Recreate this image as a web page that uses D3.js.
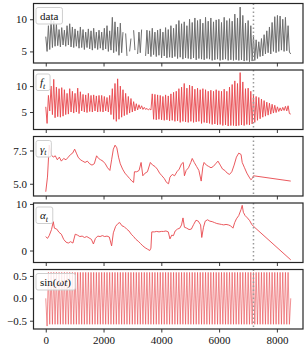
<!DOCTYPE html>
<html>
<head>
<meta charset="utf-8">
<script src="https://cdn.jsdelivr.net/npm/d3@7"></script>
<style>
  body { margin: 0; background: #fff; }
</style>
</head>
<body>
<div id="chart"></div>
<script>
// five stacked panels, shared time axis

const tEnd = 8480        // last time index
const tSplit = 7190      // dotted vertical line

// oscillating series: peaks (hi, 93 values) and troughs (lo, 92 values), drawn hi0, lo0, hi1, lo1 ...
const dataHi = [7.3, 9.0, 10.0, 9.7, 9.2, 8.4, 8.7, 8.3, 9.0, 9.3,
  8.8, 8.5, 8.2, 8.8, 8.4, 8.0, 8.5, 8.2, 8.6, 8.0,
  8.3, 8.0, 8.6, 9.0, 8.2, 10.3, 9.6, 8.8, 9.4, 8.0,
  7.8, null, 7.0, 8.3, null, 8.0, 8.4, null, 8.3, 8.2,
  8.6, 8.0, 8.3, 8.5, 8.0, 8.7, 8.4, 9.0, 8.6, 9.2,
  9.8, 9.3, 9.6, 9.0, 10.0, 9.5, 10.2, 9.8, 10.0, 9.4,
  10.3, 9.7, 10.2, 9.6, 9.9, 10.0, 9.5, 10.3, 9.8, 10.1,
  9.7, 10.8, 10.2, 11.9, 10.6, 9.4, 9.8, 9.0, 7.5, 6.8,
  6.5, 7.0, 7.6, 8.2, 8.8, 9.5, 10.4, 10.6, 10.5, 10.0,
  10.3, 9.0, 4.6]
const dataLo = [5.0, 5.3, 5.6, 5.8, 5.9, 5.7, 6.0, 5.8, 6.0, 5.7,
  5.6, 5.8, 5.5, 5.6, 5.3, 5.6, 5.4, 5.2, 5.5, 5.3,
  5.5, 5.2, 5.4, 5.0, 5.2, 4.8, 5.0, 4.4, 4.8, null,
  4.3, 5.0, null, 5.2, 4.6, 4.8, null, 4.3, 4.6, 4.2,
  4.5, 4.2, 4.4, 4.0, 4.3, 4.0, 4.1, 4.0, 4.2, 3.9,
  4.1, 3.8, 4.0, 3.9, 3.8, 4.0, 3.7, 3.9, 3.8, 3.7,
  3.9, 3.8, 3.6, 3.7, 3.8, 3.6, 3.7, 3.8, 3.6, 3.7,
  3.6, 3.7, 3.6, 3.7, 3.5, 3.6, 3.4, 3.5, 3.6, 3.9,
  4.2, 4.3, 4.6, 4.8, 4.6, 5.0, 4.8, 5.0, 5.2, 5.0,
  5.1, 4.9]

const ftHi = [6.0, 8.2, 10.0, 11.3, 9.8, 9.5, 9.7, 9.3, 8.6, 9.5,
  9.0, 8.6, 9.6, 8.9, 8.4, 8.3, 8.6, 8.2, 8.3, 8.1,
  8.2, 8.2, 8.0, 7.8, 8.2, 9.5, 10.5, 11.4, 10.0, 9.3,
  8.6, 8.0, 7.6, 7.0, 6.6, 6.4, 6.2, 5.9, 5.7, 5.6,
  8.5, 8.4, 8.3, 8.2, 8.0, 8.3, 8.1, 8.5, 8.8, 9.0,
  9.5, 9.8, 10.5, 9.6, 10.2, 10.0, 9.4, 9.6, 9.3, 9.5,
  9.3, 9.0, 9.2, 9.0, 9.3, 9.1, 9.0, 9.4, 9.0, 9.8,
  10.3, 11.0, 10.5, 12.6, 10.8, 9.5, 9.6, 9.0, 8.3, 8.0,
  7.8, 7.5, 7.2, 6.9, 6.7, 6.5, 6.3, 6.0, 5.8, 5.9,
  6.1, 6.2, 4.6]
const ftLo = [2.8, 5.2, 4.5, 3.9, 4.1, 4.0, 4.2, 4.5, 4.6, 5.0,
  4.8, 5.0, 4.7, 5.2, 5.0, 4.9, 5.1, 5.0, 5.2, 5.0,
  5.1, 5.0, 5.2, 5.0, 4.5, 3.6, 3.2, 3.6, 4.0, 4.3,
  4.5, 4.8, 5.0, 5.2, 5.4, 5.6, 5.5, 5.5, 5.4, 5.4,
  3.6, 3.5, 3.6, 3.5, 3.4, 3.5, 3.3, 3.4, 3.2, 3.3,
  3.0, 3.2, 3.1, 3.0, 3.2, 3.0, 3.1, 3.2, 2.8, 3.0,
  2.9, 2.8, 2.6, 2.7, 2.5, 2.6, 2.4, 2.5, 2.3, 2.4,
  2.4, 2.3, 2.4, 2.5, 2.4, 2.6, 2.5, 2.7, 3.0, 3.4,
  3.7, 4.0, 4.2, 4.4, 4.6, 4.8, 4.9, 5.1, 5.2, 5.3,
  5.2, 4.7]

const sinHi = [0, 0.58, 0.58, 0.58, 0.58, 0.58, 0.58, 0.58, 0.58, 0.58,
  0.58, 0.58, 0.58, 0.58, 0.58, 0.58, 0.58, 0.58, 0.58, 0.58,
  0.58, 0.58, 0.58, 0.58, 0.58, 0.58, 0.58, 0.58, 0.58, 0.58,
  0.58, 0.58, 0.58, 0.58, 0.58, 0.58, 0.58, 0.58, 0.58, 0.58,
  0.58, 0.58, 0.58, 0.58, 0.58, 0.58, 0.58, 0.58, 0.58, 0.58,
  0.58, 0.58, 0.58, 0.58, 0.58, 0.58, 0.58, 0.58, 0.58, 0.58,
  0.58, 0.58, 0.58, 0.58, 0.58, 0.58, 0.58, 0.58, 0.58, 0.58,
  0.58, 0.58, 0.58, 0.58, 0.58, 0.58, 0.58, 0.58, 0.58, 0.58,
  0.58, 0.58, 0.58, 0.58, 0.58, 0.58, 0.58, 0.58, 0.58, 0.58,
  0.58, 0.58, 0]
const sinLo = [-0.62, -0.58, -0.58, -0.58, -0.58, -0.58, -0.58, -0.58, -0.58, -0.58,
  -0.58, -0.58, -0.58, -0.58, -0.58, -0.58, -0.58, -0.58, -0.58, -0.58,
  -0.58, -0.58, -0.58, -0.58, -0.58, -0.58, -0.58, -0.58, -0.58, -0.58,
  -0.58, -0.58, -0.58, -0.58, -0.58, -0.58, -0.58, -0.58, -0.58, -0.58,
  -0.58, -0.58, -0.58, -0.58, -0.58, -0.58, -0.58, -0.58, -0.58, -0.58,
  -0.58, -0.58, -0.58, -0.58, -0.58, -0.58, -0.58, -0.58, -0.58, -0.58,
  -0.58, -0.58, -0.58, -0.58, -0.58, -0.58, -0.58, -0.58, -0.58, -0.58,
  -0.58, -0.58, -0.58, -0.58, -0.58, -0.58, -0.58, -0.58, -0.58, -0.58,
  -0.58, -0.58, -0.58, -0.58, -0.58, -0.58, -0.58, -0.58, -0.58, -0.58,
  -0.58, -0.58]

// slow series: time / value pairs
const gammaT = [0, 60, 120, 180, 260, 330, 400, 470, 540, 620, 700, 780, 860, 930, 1000, 1060, 1120, 1200, 1280, 1360,
  1440, 1520, 1600, 1680, 1760, 1830, 1900, 1980, 2060, 2140, 2220, 2280, 2340, 2400, 2460, 2520, 2580, 2660, 2740, 2820,
  2900, 2980, 3040, 3070, 3150, 3230, 3300, 3360, 3440, 3520, 3620, 3700, 3780, 3860, 3940, 4020, 4100, 4180, 4250, 4300,
  4380, 4460, 4540, 4620, 4700, 4760, 4800, 4860, 4940, 5020, 5070, 5140, 5220, 5300, 5380, 5440, 5480, 5560, 5640, 5720,
  5800, 5880, 5960, 6040, 6120, 6200, 6280, 6360, 6440, 6520, 6600, 6680, 6760, 6800, 6880, 6960, 7040, 7100, 7150, 7190, 8480]
const gammaV = [4.4, 5.5, 7.9, 7.2, 7.0, 7.1, 6.8, 7.0, 6.7, 6.9, 6.8, 7.0, 7.2, 7.3, 7.6, 7.3, 7.0, 6.8, 6.7, 6.6,
  6.7, 6.5, 6.4, 6.5, 7.1, 6.9, 6.8, 6.7, 6.5, 6.2, 6.0, 6.8, 7.6, 7.9, 7.7, 7.0, 6.5, 6.1, 5.8, 5.6,
  5.4, 5.2, 5.1, 5.9, 5.9, 6.0, 6.6, 5.6, 5.8, 5.9, 6.6, 6.4, 6.3, 6.1, 5.8, 5.6, 5.4, 5.1, 5.0, 5.5,
  5.7, 5.6, 5.9, 6.1, 6.5, 6.6, 5.6, 6.0, 6.2, 6.6, 6.9, 6.6, 6.3, 6.0, 5.2, 6.3, 6.6, 6.4, 6.3, 6.2,
  6.3, 6.5, 6.7, 6.4, 6.1, 6.0, 5.8, 5.7, 5.9, 6.4, 7.0, 7.3, 7.2, 6.6, 6.2, 5.8, 5.5, 5.3, 5.4, 5.6, 5.2]

const alphaT = [0, 60, 120, 200, 260, 300, 380, 460, 540, 620, 700, 780, 860, 940, 1020, 1100, 1180, 1260, 1340, 1420,
  1500, 1580, 1650, 1720, 1800, 1880, 1960, 2040, 2120, 2200, 2280, 2340, 2420, 2500, 2560, 2640, 2720, 2800, 2880, 2960,
  3040, 3120, 3200, 3280, 3360, 3440, 3520, 3600, 3640, 3670, 3760, 3840, 3920, 4000, 4080, 4160, 4240, 4300, 4360, 4420,
  4480, 4560, 4640, 4700, 4750, 4800, 4880, 4960, 5040, 5120, 5200, 5280, 5360, 5400, 5460, 5520, 5600, 5680, 5760, 5840,
  5920, 6000, 6080, 6160, 6240, 6320, 6400, 6480, 6540, 6600, 6680, 6760, 6800, 6840, 6900, 6980, 7060, 7130, 7190, 8480]
const alphaV = [3.0, 2.6, 3.2, 4.5, 6.2, 4.8, 4.6, 3.9, 3.5, 2.4, 1.8, 1.6, 1.9, 1.6, 3.5, 3.3, 3.0, 3.1, 2.8, 3.0,
  2.7, 2.4, 1.4, 2.6, 3.1, 3.0, 3.2, 3.0, 3.1, 2.9, 1.0, 3.8, 5.2, 5.8, 6.0, 5.3, 5.1, 4.6, 4.2, 3.5,
  3.0, 2.4, 2.0, 1.5, 1.0, 0.6, 0.3, 0.0, 0.5, 4.0, 4.0, 4.1, 4.0, 4.1, 4.1, 4.2, 4.0, 2.5, 3.3, 3.2,
  4.2, 4.6, 4.8, 5.5, 7.0, 5.0, 4.8, 4.5, 4.6, 5.6, 6.5, 6.3, 5.5, 2.8, 5.0, 6.3, 6.6, 6.3, 6.2, 6.0,
  5.8, 5.7, 5.6, 5.5, 5.6, 5.5, 5.3, 4.8, 6.0, 6.8, 7.5, 8.8, 9.7, 8.2, 7.5, 7.0, 6.4, 5.6, 5.2, -2.0]

const xTicks = [0, 2000, 4000, 6000, 8000]

// ---------- layout ----------
const W = 306, H = 350
const left = 33.5, right = 303
const tops = [3.5, 70, 136.5, 203, 269.5]
const ph = 59.5
const red = "#e8474c"
const serif = "'Liberation Serif', 'DejaVu Serif', 'Times New Roman', serif"

const zig = (hi, lo) => {
  const n = hi.length + lo.length - 1
  const pts = []
  for (let k = 0; k <= n; k++) {
    const v = k % 2 === 0 ? hi[k / 2] : lo[(k - 1) / 2]
    pts.push({ t: k * tEnd / n, v: v })
  }
  return pts
}
const pairs = (ts, vs) => ts.map((t, i) => ({ t: t, v: vs[i] }))

const panels = [
  { pts: zig(dataHi, dataLo), dom: [3.2, 12.45], ticks: [5, 10], fmt: d3.format("d"), color: "#6e6e6e", w: 1, op: 1, label: "data" },
  { pts: zig(ftHi, ftLo), dom: [1.63, 13.1], ticks: [5, 10], fmt: d3.format("d"), color: red, w: 1, op: 0.9, label: "ft" },
  { pts: pairs(gammaT, gammaV), dom: [4.08, 8.55], ticks: [5, 7.5], fmt: d3.format(".1f"), color: red, w: 1, op: 0.9, label: "gt" },
  { pts: pairs(alphaT, alphaV), dom: [-2.57, 10.2], ticks: [0, 10], fmt: d3.format("d"), color: red, w: 1, op: 0.9, label: "at" },
  { pts: zig(sinHi, sinLo), dom: [-0.685, 0.644], ticks: [-0.5, 0, 0.5], fmt: d3.format(".1f"), color: red, w: 0.8, op: 0.75, label: "sin" },
]

const x = d3.scaleLinear().domain([-424, 8904]).range([left, right])

const svg = d3.select("#chart").append("svg")
  .attr("width", W).attr("height", H)
  .style("font-family", serif)

panels.forEach((p, i) => {
  const top = tops[i]
  const y = d3.scaleLinear().domain(p.dom).range([top + ph, top])
  const g = svg.append("g")

  const clipId = "clip" + i
  g.append("clipPath").attr("id", clipId)
    .append("rect").attr("x", left).attr("y", top).attr("width", right - left).attr("height", ph)

  // series
  g.append("path")
    .datum(p.pts)
    .attr("clip-path", `url(#${clipId})`)
    .attr("d", d3.line().defined(d => d.v !== null).x(d => x(d.t)).y(d => y(d.v)))
    .attr("fill", "none")
    .attr("stroke", p.color)
    .attr("stroke-width", p.w)
    .attr("stroke-opacity", p.op)
    .attr("stroke-linejoin", "round")

  // dotted split line
  g.append("line")
    .attr("x1", x(tSplit)).attr("x2", x(tSplit))
    .attr("y1", top).attr("y2", top + ph)
    .attr("stroke", "#9a9a9a").attr("stroke-width", 1.5)
    .attr("stroke-dasharray", "1.5,2.5")

  // axes
  const ya = g.append("g")
    .attr("transform", `translate(${left},0)`)
    .call(d3.axisLeft(y).tickValues(p.ticks).tickFormat(p.fmt).tickSize(3.5).tickPadding(3))
  const xa = g.append("g")
    .attr("transform", `translate(0,${top + ph})`)
    .call(d3.axisBottom(x).tickValues(xTicks).tickSize(3.5).tickPadding(3.5)
      .tickFormat(i === panels.length - 1 ? d3.format("d") : ""))
  ;[ya, xa].forEach(a => {
    a.attr("font-family", null)
    a.select(".domain").remove()
    a.selectAll(".tick line").attr("stroke", "#222").attr("stroke-width", 0.9)
    a.selectAll(".tick text").attr("font-size", 11).attr("fill", "#111")
      .style("font-family", serif)
  })

  // frame
  g.append("rect")
    .attr("x", left).attr("y", top).attr("width", right - left).attr("height", ph)
    .attr("fill", "none").attr("stroke", "#262626").attr("stroke-width", 1.2)

  // legend box
  const lg = g.append("g").attr("transform", `translate(${left + 2.5},${top + 4})`)
  const box = lg.append("rect").attr("height", 16.5).attr("rx", 2)
    .attr("fill", "#fff").attr("fill-opacity", 0.85)
    .attr("stroke", "#cfcfcf").attr("stroke-width", 1)
  const t = lg.append("text").attr("x", 4).attr("y", 12).attr("font-size", 11).attr("fill", "#111")
    .style("font-family", serif)
  if (p.label === "data") {
    t.text("data")
  } else if (p.label === "sin") {
    t.append("tspan").text("sin(")
    t.append("tspan").attr("font-style", "italic").text("ωt")
    t.append("tspan").text(")")
  } else {
    const sym = { ft: "f", gt: "γ", at: "α" }[p.label]
    t.append("tspan").attr("font-style", "italic").text(sym)
    t.append("tspan").attr("font-style", "italic").attr("font-size", 8).attr("dy", 2.5).text("t")
  }
  const bb = t.node().getBBox()
  box.attr("width", bb.width + 8)
})
</script>
</body>
</html>
